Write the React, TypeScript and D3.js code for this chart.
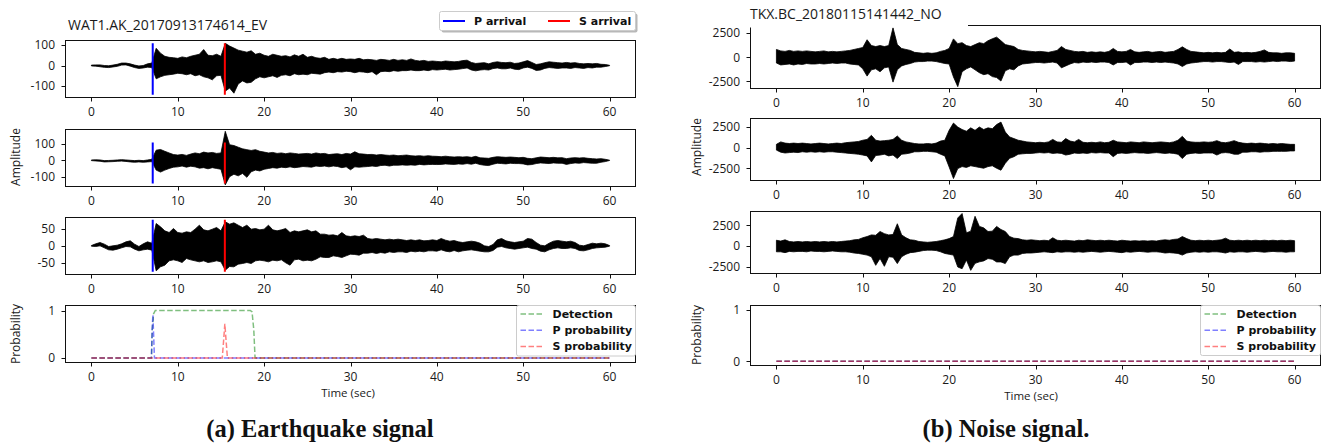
import * as d3 from 'd3';

// sample grid of the envelopes (sec)
const sampleTimes = d3.range(0, 60.25, 0.5);
const xTickValues = [0, 10, 20, 30, 40, 50, 60];
const xDomain: [number, number] = [-3, 63];

// ---- (a) earthquake: envelope maxima / minima every 0.5 s ----
const eqEHi = [
  2, 3, 3, 0, -1, 2, 6, 12, 12, 8,
  2, -2, 0, 8, 12, 84, 60, 45, 40, 38,
  35, 42, 38, 45, 50, 55, 78, 50, 48, 55,
  45, 108, 95, 85, 75, 70, 65, 72, 55, 60,
  50, 45, 55, 50, 45, 48, 42, 52, 45, 55,
  40, 45, 38, 35, 40, 30, 35, 30, 35, 30,
  32, 30, 35, 28, 30, 28, 25, 30, 28, 25,
  30, 25, 28, 25, 32, 25, 22, 25, 20, 22,
  20, 18, 22, 20, 18, 20, 24, 26, 15, 10,
  12, 14, 8, 15, 18, 15, 14, 16, 10, 12,
  18, 24, 15, 5, 8, 14, 18, 16, 14, 12,
  15, 12, 14, 10, 8, 10, 8, 10, 6, 5,
  1,
];
const eqELo = [
  -2, -3, -6, -9, -10, -7, -4, 2, 3, -3,
  -10, -14, -12, -8, -10, -65, -55, -48, -45, -42,
  -38, -40, -45, -40, -50, -45, -55, -60, -70, -50,
  -48, -125, -110, -135, -90, -75, -85, -82, -65, -55,
  -60, -55, -50, -58, -48, -45, -50, -40, -45, -42,
  -45, -38, -40, -42, -35, -32, -35, -30, -32, -28,
  -30, -35, -30, -32, -35, -30, -45, -30, -28, -30,
  -25, -28, -25, -25, -22, -25, -25, -22, -25, -20,
  -22, -20, -18, -22, -20, -18, -15, -12, -22, -26,
  -22, -20, -22, -15, -12, -16, -16, -12, -18, -20,
  -12, -8, -14, -24, -22, -14, -10, -12, -14, -12,
  -12, -14, -10, -12, -14, -10, -12, -8, -8, -5,
  -1,
];
const eqNHi = [
  2, 3, 2, -2, -1, 0, 2, 4, 2, 0,
  -2, 0, -2, 2, 6, 62, 66, 55, 45, 35,
  32, 36, 30, 38, 45, 40, 50, 45, 48, 42,
  45, 177, 95, 90, 80, 70, 65, 60, 65, 55,
  50, 45, 48, 42, 45, 40, 45, 42, 38, 40,
  42, 38, 45, 40, 42, 35, 38, 40, 35, 42,
  38, 52, 40, 38, 35, 36, 32, 35, 32, 30,
  32, 28, 30, 32, 28, 26, 28, 25, 28, 25,
  24, 22, 25, 22, 20, 22, 20, 22, 18, 24,
  15, 14, 12, 18, 22, 20, 18, 20, 18, 16,
  18, 12, 10, 15, 20, 18, 16, 18, 15, 16,
  10, 14, 16, 14, 16, 12, 10, 8, 10, 6,
  1,
];
const eqNLo = [
  -2, -4, -6, -10, -9, -8, -6, -5, -7, -10,
  -12, -10, -12, -10, -8, -60, -72, -60, -50, -42,
  -40, -35, -42, -36, -40, -48, -45, -52, -45, -50,
  -55, -150, -100, -85, -95, -80, -104, -70, -60, -65,
  -55, -50, -45, -48, -42, -45, -40, -45, -42, -38,
  -40, -42, -35, -38, -35, -40, -35, -38, -45, -40,
  -58, -40, -42, -40, -38, -35, -38, -32, -30, -35,
  -30, -30, -28, -30, -28, -30, -25, -28, -26, -25,
  -26, -25, -22, -24, -25, -22, -24, -20, -24, -18,
  -26, -30, -32, -24, -18, -20, -22, -18, -20, -20,
  -22, -28, -26, -20, -16, -18, -20, -16, -18, -18,
  -25, -20, -16, -18, -14, -16, -18, -18, -12, -8,
  -1,
];
const eqZHi = [
  1, 6, 10, 5, -2, 0, 2, 6, 12, 15,
  5, -2, 6, 12, 8, 67, 57, 45, 40, 52,
  40, 38, 42, 40, 50, 62, 48, 45, 50, 55,
  45, 72, 65, 69, 62, 55, 62, 50, 52, 48,
  50, 62, 48, 45, 48, 52, 40, 45, 42, 45,
  48, 42, 45, 35, 35, 32, 33, 30, 40, 30,
  28, 30, 28, 32, 22, 20, 22, 20, 18, 20,
  18, 20, 18, 16, 18, 16, 18, 15, 16, 18,
  16, 22, 17, 14, 16, 12, 10, 12, 14, 12,
  8, 0, -2, 4, 18, 22, 15, 12, 10, 12,
  14, 22, 20, 10, 2, 0, 8, 14, 16, 14,
  12, 14, 10, 2, 0, 4, 8, 6, 8, 6,
  1,
];
const eqZLo = [
  -1, -2, 0, -6, -12, -13, -10, -6, -2, -3,
  -10, -15, -12, -10, -13, -75, -63, -58, -45, -42,
  -45, -50, -38, -42, -45, -48, -45, -50, -48, -45,
  -48, -73, -62, -63, -55, -53, -50, -53, -45, -43,
  -45, -48, -43, -45, -42, -51, -58, -42, -40, -45,
  -43, -45, -40, -33, -35, -35, -30, -32, -35, -30,
  -25, -26, -28, -22, -22, -20, -23, -20, -22, -18,
  -20, -18, -18, -20, -16, -18, -16, -18, -15, -15,
  -16, -12, -16, -18, -14, -18, -15, -13, -12, -14,
  -16, -18, -18, -14, -4, -2, -6, -8, -10, -8,
  -6, -4, -8, -10, -16, -18, -12, -8, -6, -8,
  -8, -6, -8, -14, -15, -12, -8, -6, -5, -4,
  -1,
];

// ---- (b) noise ----
const noEHi = [
  800, 650, 600, 700, 600, 650, 600, 650, 600, 550,
  600, 650, 550, 600, 550, 600, 650, 700, 800, 900,
  1000, 1800, 1200, 1100, 1200, 1100, 1200, 3035, 1300, 900,
  800, 700, 500, 450, 400, 450, 400, 450, 600, 700,
  900, 1890, 1400, 1500, 1200, 1100, 1300, 1500, 1400, 1700,
  1900, 2070, 1700, 1300, 1200, 1100, 800, 700, 650, 600,
  550, 600, 550, 500, 600, 700, 1100, 800, 700, 600,
  550, 600, 500, 550, 500, 550, 500, 600, 900, 600,
  550, 600, 800, 550, 500, 550, 600, 500, 550, 600,
  500, 550, 600, 800, 1070, 800, 600, 550, 500, 450,
  500, 450, 500, 450, 500, 850, 500, 550, 450, 500,
  450, 500, 600, 750, 500, 450, 450, 400, 450, 450,
  400,
];
const noELo = [
  -600, -800, -750, -700, -800, -700, -750, -650, -700, -700,
  -650, -700, -650, -600, -650, -600, -600, -700, -750, -800,
  -1200, -1950, -1300, -1200, -1500, -1100, -1000, -2570, -1300, -900,
  -750, -650, -500, -450, -450, -400, -400, -450, -550, -650,
  -700, -2035, -3035, -1500, -1200, -1000, -1300, -1600, -1800, -1700,
  -2000, -2100, -2460, -1400, -1200, -1300, -900, -700, -650, -600,
  -550, -550, -600, -550, -500, -600, -1100, -900, -700, -550,
  -600, -500, -550, -500, -550, -500, -500, -550, -800, -550,
  -550, -500, -800, -550, -550, -500, -500, -550, -500, -550,
  -500, -550, -600, -700, -960, -700, -600, -550, -500, -450,
  -450, -500, -450, -450, -500, -550, -500, -750, -450, -450,
  -450, -500, -450, -500, -450, -400, -450, -400, -400, -450,
  -400,
];
const noNHi = [
  400, 700, 550, 500, 550, 500, 550, 500, 450, 500,
  550, 500, 450, 500, 550, 500, 600, 650, 700, 750,
  900, 1000, 1490, 900, 800, 850, 900, 1000, 1410, 900,
  700, 600, 500, 450, 450, 500, 450, 550, 800, 900,
  2100, 2980, 2500, 2200, 2000, 2400, 2100, 2500, 2200, 2400,
  2300, 2800, 3100, 1900, 1300, 1100, 900, 800, 700, 650,
  600, 650, 600, 700, 1000, 700, 650, 1100, 800, 700,
  1000, 650, 600, 650, 600, 700, 600, 650, 900, 700,
  650, 600, 700, 650, 600, 700, 650, 600, 650, 700,
  650, 600, 700, 900, 1370, 800, 700, 650, 650, 700,
  650, 700, 850, 650, 600, 700, 850, 650, 550, 500,
  550, 500, 550, 500, 450, 500, 450, 500, 450, 400,
  400,
];
const noNLo = [
  -300, -550, -650, -600, -550, -600, -500, -550, -500, -550,
  -500, -550, -500, -500, -550, -600, -650, -700, -750, -800,
  -900, -1000, -1730, -950, -900, -800, -1000, -900, -1330, -800,
  -750, -650, -500, -500, -450, -450, -500, -550, -800, -1000,
  -2340, -3750, -2540, -2300, -2400, -2200, -2300, -2400, -2500, -2300,
  -2200, -2500, -2740, -1900, -1300, -1100, -800, -750, -700, -700,
  -650, -600, -650, -600, -700, -650, -700, -900, -800, -650,
  -700, -650, -700, -600, -650, -600, -650, -650, -1100, -700,
  -650, -700, -650, -600, -650, -650, -700, -650, -600, -650,
  -700, -650, -700, -800, -1330, -800, -700, -650, -700, -650,
  -650, -650, -900, -650, -600, -650, -800, -800, -550, -550,
  -500, -500, -550, -500, -500, -450, -450, -450, -450, -400,
  -400,
];
const noZHi = [
  700, 600, 750, 550, 500, 550, 500, 550, 500, 550,
  500, 550, 500, 550, 500, 550, 600, 650, 750, 800,
  1000, 1150, 1350, 1300, 1760, 1500, 1350, 1400, 2700, 1350,
  1000, 750, 700, 550, 500, 450, 500, 550, 650, 750,
  900, 1150, 3400, 3940, 1600, 1800, 3600, 2380, 2200, 1760,
  1800, 2380, 2000, 1760, 1150, 950, 900, 750, 700, 750,
  700, 650, 700, 650, 1000, 700, 650, 700, 650, 600,
  700, 650, 750, 700, 650, 700, 650, 700, 650, 600,
  700, 650, 600, 650, 600, 650, 600, 650, 600, 700,
  750, 700, 800, 850, 1150, 900, 700, 650, 700, 650,
  700, 650, 700, 750, 950, 700, 650, 700, 650, 700,
  650, 700, 650, 700, 650, 700, 650, 700, 650, 700,
  650,
];
const noZLo = [
  -700, -700, -800, -650, -700, -650, -650, -700, -600, -650,
  -650, -700, -650, -600, -650, -700, -700, -750, -850, -900,
  -1000, -1100, -1300, -2340, -1500, -2460, -1300, -1350, -2130, -1300,
  -1000, -800, -750, -650, -550, -500, -500, -550, -700, -900,
  -1000, -1100, -2540, -2750, -1700, -2950, -2100, -1920, -1800, -1520,
  -1600, -1930, -1930, -2130, -1310, -1100, -1100, -900, -850, -850,
  -800, -750, -700, -750, -800, -700, -750, -700, -700, -750,
  -700, -750, -700, -650, -700, -750, -700, -650, -700, -750,
  -800, -700, -750, -700, -650, -700, -750, -700, -700, -750,
  -850, -800, -850, -900, -1100, -850, -750, -700, -750, -700,
  -750, -700, -700, -750, -850, -700, -750, -700, -700, -750,
  -700, -650, -700, -750, -700, -650, -700, -700, -750, -700,
  -700,
];

// picks (sec) and the extent of the marker lines in each trace panel
const pArrival = 7.1;
const sArrival = 15.45;
const arrivalLow = [-143, -142, -78];
const arrivalHigh = [109, 108, 78];

// probability curves
const eqDetT = [0, 6.95, 7.05, 7.2, 7.4, 18.4, 18.6, 18.8, 18.95, 60];
const eqDetV = [0, 0, 0.6, 0.93, 1, 1, 0.97, 0.6, 0, 0];
const eqPT = [0, 6.95, 7.03, 7.12, 7.2, 7.3, 60];
const eqPV = [0, 0, 0.6, 0.91, 0.5, 0, 0];
const eqST = [0, 15.15, 15.3, 15.45, 15.6, 15.75, 60];
const eqSV = [0, 0, 0.35, 0.72, 0.35, 0, 0];
const noiseT = [0, 60];
const noiseDetV = [0, 0];
const noisePV = [0, 0];
const noiseSV = [0, 0];

const probNames = ['Detection', 'P probability', 'S probability'];
const probColors = ['#008000', '#0000ff', '#ff0000'];

const INK = '#111';
const TICK_FONT = '"Open Sans", sans-serif';
const LEGEND_FONT = '"DejaVu Sans", sans-serif';
const CAPTION_FONT = '"Liberation Serif", serif';

type Frame = { left: number; right: number; top: number; bottom: number };

function Axes({ f, x, y, yTicks, id }: any) {
  return (
    <g fontFamily={TICK_FONT} fontSize={12} fill="#1a1a1a">
      <rect x={f.left} y={f.top} width={f.right - f.left} height={f.bottom - f.top} fill="none" stroke={INK} strokeWidth={1} />
      {xTickValues.map((v) => (
        <g key={`${id}x${v}`}>
          <line x1={Math.round(x(v)) + 0.5} x2={Math.round(x(v)) + 0.5} y1={f.bottom} y2={f.bottom + 4} stroke={INK} />
          <text x={x(v)} y={f.bottom + 18.5} textAnchor="middle">{v}</text>
        </g>
      ))}
      {yTicks.map((v: number) => (
        <g key={`${id}y${v}`}>
          <line x1={f.left - 4} x2={f.left} y1={Math.round(y(v)) + 0.5} y2={Math.round(y(v)) + 0.5} stroke={INK} />
          <text x={f.left - 10.5} y={y(v)} dy="0.36em" textAnchor="end">{String(v)}</text>
        </g>
      ))}
    </g>
  );
}

function TracePanel({ id, f, yDomain, yTicks, hi, lo, arrivalIdx }: any) {
  const x = d3.scaleLinear().domain(xDomain).range([f.left, f.right]);
  const y = d3.scaleLinear().domain(yDomain).range([f.bottom, f.top]);
  const band = d3
    .area<number>()
    .x((_, i) => x(sampleTimes[i]))
    .y0((_, i) => y(lo[i]))
    .y1((_, i) => y(hi[i]));
  return (
    <g>
      <defs>
        <clipPath id={id}>
          <rect x={f.left} y={f.top} width={f.right - f.left} height={f.bottom - f.top} />
        </clipPath>
      </defs>
      <g clipPath={`url(#${id})`}>
        <path d={band(hi) || ''} fill="#000" stroke="#000" strokeWidth={0.8} strokeLinejoin="miter" />
        {arrivalIdx !== undefined &&
          [
            [pArrival, '#0000ff'],
            [sArrival, '#ff0000'],
          ].map(([t, c]) => (
            <line key={String(c)} x1={x(t as number)} x2={x(t as number)} y1={y(arrivalLow[arrivalIdx])} y2={y(arrivalHigh[arrivalIdx])} stroke={c as string} strokeWidth={2} />
          ))}
      </g>
      <Axes f={f} x={x} y={y} yTicks={yTicks} id={id} />
    </g>
  );
}

function ProbPanel({ id, f, yDomain, series, legend }: any) {
  const x = d3.scaleLinear().domain(xDomain).range([f.left, f.right]);
  const y = d3.scaleLinear().domain(yDomain).range([f.bottom, f.top]);
  const line = d3.line<[number, number]>().x((d) => x(d[0])).y((d) => y(d[1]));
  return (
    <g>
      <defs>
        <clipPath id={id}>
          <rect x={f.left} y={f.top} width={f.right - f.left} height={f.bottom - f.top} />
        </clipPath>
      </defs>
      <g clipPath={`url(#${id})`}>
        {series.map(([ts, vs]: [number[], number[]], k: number) => (
          <path
            key={k}
            d={line(ts.map((t, i) => [t, vs[i]])) || ''}
            fill="none"
            stroke={probColors[k]}
            strokeOpacity={0.5}
            strokeWidth={1.5}
            strokeDasharray="5.5,2.5"
          />
        ))}
      </g>
      <Axes f={f} x={x} y={y} yTicks={[0, 1]} id={id} />
      <g>
        <rect x={legend.x} y={legend.y} width={legend.w} height={legend.h} rx={2} fill="#fff" fillOpacity={0.85} stroke="#ccc" />
        {probNames.map((name, k) => (
          <g key={name}>
            <line x1={legend.x + 4} x2={legend.x + 27} y1={legend.y + 8.5 + k * 16.2} y2={legend.y + 8.5 + k * 16.2} stroke={probColors[k]} strokeOpacity={0.5} strokeWidth={1.5} strokeDasharray="5.5,2.5" />
            <text x={legend.x + 36} y={legend.y + 12.5 + k * 16.2} fontFamily={LEGEND_FONT} fontWeight="bold" fontSize={11} fill="#111">{name}</text>
          </g>
        ))}
      </g>
    </g>
  );
}

const A = { left: 65.5, right: 635.5 };
const B = { left: 750.5, right: 1320.5 };

export default function App() {
  const a1: Frame = { ...A, top: 40.5, bottom: 97.5 };
  const a2: Frame = { ...A, top: 129.5, bottom: 186.5 };
  const a3: Frame = { ...A, top: 217.5, bottom: 274.5 };
  const a4: Frame = { ...A, top: 305.5, bottom: 362.5 };
  const b1: Frame = { ...B, top: 25.5, bottom: 88.5 };
  const b2: Frame = { ...B, top: 118.5, bottom: 180.5 };
  const b3: Frame = { ...B, top: 211.5, bottom: 273.5 };
  const b4: Frame = { ...B, top: 305.5, bottom: 365.5 };

  return (
    <svg width={1324} height={444} style={{ position: 'absolute', left: 0, top: 0, background: '#fff' }} fontFamily={TICK_FONT}>
      <rect x={0} y={0} width={1324} height={444} fill="#fff" />

      {/* (a) earthquake */}
      <TracePanel id="a1" f={a1} yDomain={[-156, 122]} yTicks={[-100, 0, 100]} hi={eqEHi} lo={eqELo} arrivalIdx={0} />
      <TracePanel id="a2" f={a2} yDomain={[-160, 188]} yTicks={[-100, 0, 100]} hi={eqNHi} lo={eqNLo} arrivalIdx={1} />
      <TracePanel id="a3" f={a3} yDomain={[-86, 85]} yTicks={[-50, 0, 50]} hi={eqZHi} lo={eqZLo} arrivalIdx={2} />
      <ProbPanel
        id="a4"
        f={a4}
        yDomain={[-0.092, 1.105]}
        series={[[eqDetT, eqDetV], [eqPT, eqPV], [eqST, eqSV]]}
        legend={{ x: 516.5, y: 305.5, w: 119, h: 50.5 }}
      />
      <text x={68} y={30} fontSize={14} fill="#1a1a1a">WAT1.AK_20170913174614_EV</text>
      <g>
        <rect x={441.5} y={13.5} width={196} height={19} rx={2} fill="#888" fillOpacity={0.6} />
        <rect x={439.5} y={11.5} width={196} height={19} rx={2} fill="#fff" stroke="#ccc" />
        <line x1={443} x2={465} y1={21} y2={21} stroke="#0000ff" strokeWidth={2} />
        <text x={474} y={25} fontFamily={LEGEND_FONT} fontWeight="bold" fontSize={11} fill="#111">P arrival</text>
        <line x1={548} x2={570} y1={21} y2={21} stroke="#ff0000" strokeWidth={2} />
        <text x={579} y={25} fontFamily={LEGEND_FONT} fontWeight="bold" fontSize={11} fill="#111">S arrival</text>
      </g>
      <text transform="translate(20,157) rotate(-90)" textAnchor="middle" fontSize={12} fill="#1a1a1a">Amplitude</text>
      <text transform="translate(20,334) rotate(-90)" textAnchor="middle" fontSize={12} fill="#1a1a1a">Probability</text>
      <text x={348} y={396.5} textAnchor="middle" fontSize={11.5} fill="#1a1a1a">Time (sec)</text>
      <text x={320} y={437} textAnchor="middle" fontFamily={CAPTION_FONT} fontWeight="bold" fontSize={24.5} fill="#111">(a) Earthquake signal</text>

      {/* (b) noise */}
      <TracePanel id="b1" f={b1} yDomain={[-3228, 3270]} yTicks={[-2500, 0, 2500]} hi={noEHi} lo={noELo} />
      <TracePanel id="b2" f={b2} yDomain={[-3988, 3537]} yTicks={[-2500, 0, 2500]} hi={noNHi} lo={noNLo} />
      <TracePanel id="b3" f={b3} yDomain={[-3329, 4183]} yTicks={[-2500, 0, 2500]} hi={noZHi} lo={noZLo} />
      <ProbPanel
        id="b4"
        f={b4}
        yDomain={[-0.084, 1.084]}
        series={[[noiseT, noiseDetV], [noiseT, noisePV], [noiseT, noiseSV]]}
        legend={{ x: 1200.5, y: 305.5, w: 120, h: 50 }}
      />
      <rect x={745} y={0} width={223} height={27.5} fill="#fff" />
      <text x={750} y={19} fontSize={14} fill="#1a1a1a">TKX.BC_20180115141442_NO</text>
      <text transform="translate(701,147) rotate(-90)" textAnchor="middle" fontSize={12} fill="#1a1a1a">Amplitude</text>
      <text transform="translate(701,335) rotate(-90)" textAnchor="middle" fontSize={12} fill="#1a1a1a">Probability</text>
      <text x={1031} y={399.5} textAnchor="middle" fontSize={11.5} fill="#1a1a1a">Time (sec)</text>
      <text x={1006} y={437} textAnchor="middle" fontFamily={CAPTION_FONT} fontWeight="bold" fontSize={24.5} fill="#111">(b) Noise signal.</text>
    </svg>
  );
}
